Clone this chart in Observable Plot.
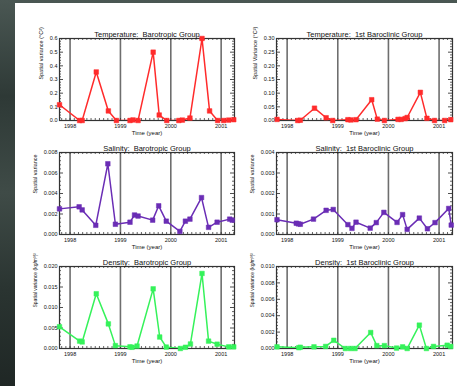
<!DOCTYPE html>
<html><head><meta charset="utf-8">
<script src="https://cdn.jsdelivr.net/npm/d3@7"></script>
<script src="https://cdn.jsdelivr.net/npm/@observablehq/plot@0.6"></script>
<style>
html,body{margin:0;padding:0;}
body{width:457px;height:386px;overflow:hidden;position:relative;
 background:linear-gradient(180deg,#4a5753 0%,#2e3936 25%,#3f4b47 50%,#2a3431 75%,#1f2725 100%);}
#panel{position:absolute;left:15px;top:3px;width:442px;height:383px;background:#fff;}
.cell{position:absolute;}
</style></head><body><div id="panel"></div>
<script>
// ---- data (decimal years, spatial variance) ----
const tempBaroYears = [1997.79,1998.19,1998.24,1998.52,1998.76,1998.92,1999.19,1999.25,1999.35,1999.65,1999.77,1999.92,2000.16,2000.23,2000.38,2000.62,2000.77,2000.93,2001.05,2001.15,2001.25];
const tempBaroValues = [0.115,0.0,0.0,0.355,0.07,0.0,0.0,0.004,0.0,0.50,0.04,0.0,0.0,0.003,0.018,0.60,0.07,0.0,0.0,0.003,0.006];

const tempBcYears = [1997.80,1998.21,1998.26,1998.54,1998.77,1998.90,1999.20,1999.26,1999.36,1999.67,1999.78,1999.92,2000.19,2000.25,2000.33,2000.37,2000.63,2000.76,2000.91,2001.11,2001.23];
const tempBcValues = [0.004,0.0,0.001,0.045,0.01,0.0,0.003,0.002,0.003,0.076,0.005,0.0,0.004,0.004,0.007,0.011,0.103,0.008,0.0,0.0,0.003];

const salBaroYears = [1997.79,1998.18,1998.24,1998.51,1998.75,1998.90,1999.19,1999.28,1999.35,1999.64,1999.76,1999.91,2000.18,2000.29,2000.38,2000.61,2000.75,2000.92,2001.17,2001.22];
const salBaroValues = [0.0025,0.0027,0.0024,0.0009,0.0069,0.0010,0.0012,0.0019,0.0018,0.0014,0.0028,0.0013,0.0003,0.0013,0.0015,0.0036,0.0007,0.0012,0.0015,0.0014];

const salBcYears = [1997.80,1998.18,1998.22,1998.26,1998.52,1998.77,1998.91,1999.20,1999.28,1999.36,1999.64,1999.76,1999.91,2000.17,2000.28,2000.37,2000.61,2000.77,2000.92,2001.19,2001.24];
const salBcValues = [0.00072,0.00055,0.00052,0.00050,0.00075,0.00118,0.00122,0.00048,0.00030,0.00060,0.00031,0.00058,0.00108,0.00059,0.00097,0.00025,0.00080,0.00028,0.00058,0.00127,0.00046];

const denBaroYears = [1997.79,1998.19,1998.24,1998.52,1998.76,1998.90,1999.19,1999.23,1999.33,1999.65,1999.78,1999.91,2000.19,2000.29,2000.39,2000.62,2000.75,2000.92,2001.15,2001.25];
const denBaroValues = [0.0053,0.0018,0.0016,0.01335,0.0060,0.0007,0.0004,0.0003,0.0006,0.01455,0.0028,0.00035,0.0,0.0003,0.0011,0.0183,0.0018,0.00105,0.0004,0.0004];

const denBcYears = [1997.80,1998.23,1998.26,1998.53,1998.76,1998.92,1999.15,1999.25,1999.34,1999.65,1999.77,1999.92,2000.16,2000.28,2000.37,2000.61,2000.75,2000.89,2001.16,2001.23];
const denBcValues = [0.0002,0.0001,0.00015,0.0002,0.00025,0.0010,0.0,0.0,0.0,0.00195,0.00035,0.00035,0.00005,0.0002,0.0,0.00285,0.0,0.00025,0.0004,0.00025];

// ---- tick labels ----
const yearTicks = [1998, 1999, 2000, 2001];
const tempBaroTicks = [0, 0.1, 0.2, 0.3, 0.4, 0.5, 0.6];
const tempBcTicks = [0, 0.05, 0.10, 0.15, 0.20, 0.25, 0.30];
const salBaroTicks = [0, 0.002, 0.004, 0.006, 0.008];
const salBcTicks = [0, 0.001, 0.002, 0.003, 0.004];
const denBaroTicks = [0, 0.005, 0.010, 0.015, 0.020];
const denBcTicks = [0, 0.002, 0.004, 0.006, 0.008, 0.010];

const titles = ["Temperature:  Barotropic Group", "Temperature:  1st Baroclinic Group",
                "Salinity:  Barotropic Group", "Salinity:  1st Baroclinic Group",
                "Density:  Barotropic Group", "Density:  1st Baroclinic Group"];
const yLabels = ["Spatial variance (°C²)", "Spatial Variance (°C²)",
                 "Spatial variance", "Spatial variance",
                 "Spatial variance (kg/m³)²", "Spatial variance (kg/m³)²"];
const colors = {temp: "#ff2b2b", sal: "#6a2db5", den: "#35f25a"};

const xDomain = [1997.79, 2001.265];
const font = "'Liberation Sans', Arial, sans-serif";

function minors(ticks, n) {
  const out = [];
  for (let i = 0; i < ticks.length - 1; i++) {
    const step = (ticks[i + 1] - ticks[i]) / n;
    for (let j = 1; j < n; j++) out.push(ticks[i] + j * step);
  }
  return out;
}
const monthTicks = d3.range(0, 44).map(i => 1997 + 10 / 12 + i / 12).filter(v => v > xDomain[0] && v < xDomain[1]);

function panel({years, values, ticks, fmt, title, ylabel, color, left, top, col, labelOffset, labelSize}) {
  const width = col === 0 ? 225 : 217;
  const height = 115;
  const mL = col === 0 ? 44 : 36, mR = col === 0 ? 6 : 5, mT = 13, mB = 20;
  const pw = width - mL - mR, ph = height - mT - mB;
  const data = years.map((y, i) => ({t: y, v: values[i]}));
  const yMinor = minors(ticks, 5);
  const tc = "#222";
  const chart = Plot.plot({
    width, height, marginLeft: mL, marginRight: mR, marginTop: mT, marginBottom: mB,
    style: {fontFamily: font, fontSize: "5.5px", background: "transparent", color: "#111"},
    x: {domain: xDomain},
    y: {domain: [0, ticks[ticks.length - 1]]},
    marks: [
      Plot.ruleX(yearTicks, {stroke: "#6e6e6e", strokeWidth: 1.6}),
      Plot.ruleY(ticks, {stroke: tc, strokeWidth: 0.8, insetRight: pw - 4}),
      Plot.ruleY(ticks, {stroke: tc, strokeWidth: 0.8, insetLeft: pw - 4}),
      Plot.ruleY(yMinor, {stroke: tc, strokeWidth: 0.7, insetRight: pw - 2}),
      Plot.ruleY(yMinor, {stroke: tc, strokeWidth: 0.7, insetLeft: pw - 2}),
      Plot.ruleX(monthTicks, {stroke: tc, strokeWidth: 0.7, insetTop: ph - 2}),
      Plot.ruleX(monthTicks, {stroke: tc, strokeWidth: 0.7, insetBottom: ph - 2}),
      Plot.frame({stroke: "#333", strokeWidth: 1.2}),
      Plot.line(data, {x: "t", y: "v", stroke: color, strokeWidth: 1.5, clip: true}),
      Plot.dot(data, {x: "t", y: "v", symbol: "square", r: 2.6, fill: color, stroke: color, strokeWidth: 0.5}),
      Plot.axisY({ticks, tickFormat: fmt, tickSize: 0, tickPadding: 2, fontSize: 5.5, label: null}),
      Plot.axisX({ticks: yearTicks, tickFormat: d => String(d), tickSize: 0, tickPadding: 3.5, fontSize: 5.5, label: null}),
      Plot.text([title], {text: d => d, frameAnchor: "top", lineAnchor: "bottom", dy: -2, fontSize: 7.5, fill: "#111"}),
      Plot.text(["Time (year)"], {text: d => d, frameAnchor: "bottom", lineAnchor: "middle", dy: 13, fontSize: 6, fill: "#111"}),
      Plot.text([ylabel], {text: d => d, frameAnchor: "left", lineAnchor: "middle", rotate: -90, dx: -labelOffset, fontSize: labelSize || 5.5, fill: "#111"})
    ]
  });
  const div = document.createElement("div");
  div.className = "cell";
  div.style.left = left + "px";
  div.style.top = top + "px";
  div.appendChild(chart);
  document.getElementById("panel").appendChild(div);
}

const rowsTop = [22, 136, 250];
const colsLeft = [0, 225];
const f1 = d3.format(".1f"), f2 = d3.format(".2f"), f3 = d3.format(".3f");

panel({years: tempBaroYears, values: tempBaroValues, ticks: tempBaroTicks, fmt: f1, title: titles[0], ylabel: yLabels[0], color: colors.temp, left: colsLeft[0], top: rowsTop[0], col: 0, labelOffset: 18});
panel({years: tempBcYears, values: tempBcValues, ticks: tempBcTicks, fmt: f2, title: titles[1], ylabel: yLabels[1], color: colors.temp, left: colsLeft[1], top: rowsTop[0], col: 1, labelOffset: 21});
panel({years: salBaroYears, values: salBaroValues, ticks: salBaroTicks, fmt: f3, title: titles[2], ylabel: yLabels[2], color: colors.sal, left: colsLeft[0], top: rowsTop[1], col: 0, labelOffset: 24});
panel({years: salBcYears, values: salBcValues, ticks: salBcTicks, fmt: f3, title: titles[3], ylabel: yLabels[3], color: colors.sal, left: colsLeft[1], top: rowsTop[1], col: 1, labelOffset: 24});
panel({years: denBaroYears, values: denBaroValues, ticks: denBaroTicks, fmt: f3, title: titles[4], ylabel: yLabels[4], color: colors.den, left: colsLeft[0], top: rowsTop[2], col: 0, labelOffset: 24, labelSize: 5});
panel({years: denBcYears, values: denBcValues, ticks: denBcTicks, fmt: f3, title: titles[5], ylabel: yLabels[5], color: colors.den, left: colsLeft[1], top: rowsTop[2], col: 1, labelOffset: 24, labelSize: 5});
</script>
</body></html>
